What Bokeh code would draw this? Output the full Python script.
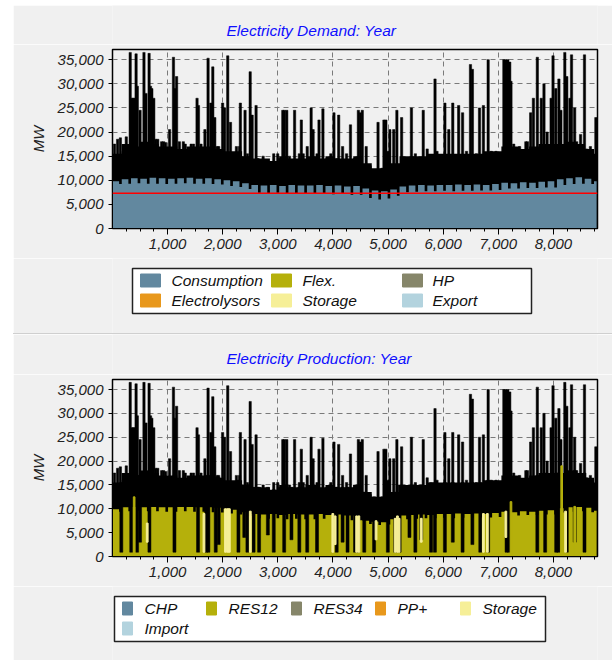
from bokeh.plotting import figure
from bokeh.models import FixedTicker, NumeralTickFormatter, Span, Range1d, Spacer
from bokeh.core.properties import value
from bokeh.layouts import column, row
from bokeh.embed import file_html
from bokeh.resources import INLINE

# ---------------- data ----------------
YEAR_HOURS = 8784
WEEK = 168
WEEKDAY = 120

demand_title = "Electricity Demand: Year"
production_title = "Electricity Production: Year"
y_label = "MW"

# consumption: weekday level and weekend level per week (MW)
cons_weekday = [9800, 10200, 10400, 10300, 10500, 10400,
                10300, 10400, 10500, 10300, 10400, 10200,
                10000, 9800, 9400,
                9000, 8900, 9000, 8800, 9000, 8900,
                8900, 9000, 8800, 8900, 8700, 8800,
                8300, 7900, 7700, 8100,
                8700, 8900, 9000, 8900, 9000, 9000, 9100, 9000, 9100, 9000, 9200,
                9500, 9400, 9600, 9500, 9700, 9800,
                10200, 10400, 10600, 10300, 9800]
cons_weekend = [9200, 9300, 9400, 9300, 9300, 9200,
                9300, 9400, 9300, 9300, 9200, 9100,
                8800, 8600, 8200,
                7400, 7300, 7400, 7200, 7300, 7200,
                7200, 7300, 7100, 7200, 7000, 7000,
                6300, 6000, 6200, 6800,
                7500, 7600, 7700, 7700, 7800, 7700, 7800, 7800, 7900, 7900, 8000,
                8300, 8300, 8400, 8400, 8500, 8500,
                9000, 9200, 9300, 9200, 8700]

# dense black band (weekly level, MW)
black_band = [15500, 17500, 17000, 18000, 17500, 17000,
              17000, 16500, 17000, 17000, 17000, 16500,
              16000, 16000, 15000,
              14500, 14500, 14000, 15000, 14500, 14500,
              15000, 14500, 15000, 14500, 14500, 15000,
              13500, 12500, 12500, 13500,
              15000, 15000, 15000, 15500, 15500, 15500, 15500, 15500, 15500, 16000, 16000,
              17000, 17000, 16500, 17000, 17500, 17500,
              17500, 18000, 17500, 16500, 15500]

# peaks of the black envelope
peak_hours = [36, 93, 143, 193, 250, 321, 350, 378, 400, 428, 450, 500, 571, 607, 664,
              690, 714, 749, 785, 821, 856, 892, 928, 963, 1035, 1106, 1135, 1163, 1213,
              1285, 1320, 1356, 1427, 1470, 1534, 1560, 1606, 1677, 1734, 1784, 1820,
              1856, 1900, 1927, 1998, 2034, 2091, 2141, 2198, 2248, 2305, 2320, 2369,
              2405, 2448, 2498, 2534, 2605, 2641, 2733, 2783, 2926, 2998, 3033, 3090,
              3119, 3162, 3212, 3304, 3390, 3426, 3461, 3533, 3604, 3640, 3711, 3747,
              3818, 3890, 3961, 4018, 4068, 4104, 4175, 4247, 4318, 4389, 4461, 4497,
              4532, 4603, 4675, 4746, 4818, 4889, 4925, 4960, 4996, 5032, 5103, 5160,
              5246, 5317, 5424, 5495, 5638, 5710, 5852, 5888, 6031, 6102, 6174, 6281,
              6352, 6423, 6495, 6530, 6602, 6659, 6730, 6816, 6873, 6959, 7101, 7137,
              7173, 7208, 7230, 7280, 7387, 7458, 7500, 7530, 7587, 7637, 7708, 7780,
              7829, 7886, 7958, 7993, 8043, 8100, 8136, 8207, 8243, 8300, 8329, 8386,
              8422, 8493, 8564, 8600, 8671, 8707, 8770]
peak_mw = [17500, 18500, 18800, 16000, 19000, 36500, 27000, 27000, 27000, 36200, 29500,
           24500, 36500, 28000, 36300, 29500, 29000, 27000, 18500, 18500, 15500, 18000,
           18000, 17800, 20500, 35500, 29000, 31500, 18000, 18000, 17500, 15000, 17500,
           17500, 27000, 25500, 17500, 20500, 35300, 26000, 33500, 23000, 17000, 17000,
           26000, 25000, 35800, 22000, 13000, 17000, 17000, 26000, 13000, 24500, 15500,
           32500, 23500, 25500, 14500, 15000, 12000, 15500, 15500, 14500, 24500, 24500,
           24500, 15000, 24500, 15500, 22500, 15500, 17000, 25000, 20500, 15500, 22500,
           24800, 14500, 15500, 24000, 14500, 23500, 17000, 15500, 21500, 14500, 24500,
           24000, 24500, 17000, 13000, 10000, 22000, 12500, 22500, 22500, 16000, 20500,
           20500, 24500, 23000, 14000, 25000, 15500, 24500, 16500, 31000, 16000, 26000,
           20500, 26000, 25500, 24000, 16000, 34000, 33000, 15500, 25000, 25500, 35000,
           16000, 16000, 35000, 35000, 35000, 34500, 30500, 17500, 17000, 16000, 18000,
           18000, 24000, 27000, 35500, 27000, 30000, 20000, 27000, 35800, 29000, 31000,
           24500, 36500, 31500, 27000, 36000, 25000, 18000, 19500, 36000, 16500, 17000,
           14000, 23000]

red_line_mw = 7300

# production: RES12 weekly levels
res12_weekday = [9900, 10300, 10400, 10300, 10400, 10300,
                 10300, 10400, 10400, 10300, 10300, 10200,
                 10000, 9800, 9300,
                 8900, 8800, 8900, 8700, 8900, 8800,
                 8800, 8900, 8700, 8800, 8600, 8600,
                 7500, 7300, 7200, 7800,
                 8600, 8700, 8800, 8700, 8900, 8900, 9000, 8900, 9000, 8900, 9100,
                 9400, 9300, 9500, 9400, 9600, 9700,
                 10100, 10300, 10400, 10200, 9600]
res12_weekend = [9400, 9500, 9600, 9500, 9500, 9400,
                 9400, 9500, 9400, 9400, 9300, 9200,
                 9000, 8800, 8500,
                 8000, 7900, 8000, 7800, 7900, 7800,
                 7800, 7900, 7700, 7800, 7600, 7600,
                 6800, 6600, 6700, 7200,
                 7800, 7900, 8000, 8000, 8100, 8000, 8100, 8100, 8200, 8200, 8300,
                 8600, 8600, 8700, 8700, 8800, 8800,
                 9200, 9400, 9500, 9300, 8900]

# hours where RES12 drops (black shows down to these levels)
res_dip_hours = [160, 340, 446, 500, 670, 1124, 1552, 1700, 1740, 1873, 1927, 2285,
                 2391, 2448, 2560, 2660, 2819, 2926, 3115, 3247, 3390, 3533, 3711,
                 4068, 4175, 4265, 4400, 4450, 4568, 4746, 4996, 5130, 5210, 5388,
                 5495, 5602, 5780, 5850, 6031, 6174, 6352, 6530, 6673, 6816, 7150,
                 7195, 7708, 7850, 8050, 8090, 8243, 8386, 8564]
res_dip_mw = [900, 900, 900, 3000, 900, 900, 900, 900, 900, 900, 2500, 900,
              4000, 900, 900, 900, 4500, 900, 900, 3500, 900, 900, 900,
              900, 3000, 900, 900, 900, 900, 900, 900, 900, 900, 4000,
              900, 3500, 900, 900, 900, 3000, 900, 2500, 900, 900, 900,
              900, 900, 900, 900, 900, 900, 3000, 900]

# storage output bars
storage_hours = [630, 1660, 2050, 2090, 2120, 2500, 3997, 4040, 4430, 4470, 4782,
                 5130, 5170, 5200, 5602, 6730, 6802, 7137, 8221]
storage_low = [3000, 900, 900, 900, 900, 900, 900, 2500, 900, 900, 3500,
               900, 900, 900, 3000, 900, 900, 4000, 900]
storage_high = [7000, 9000, 10000, 10000, 10000, 9500, 9000, 8500, 8500, 8500, 7500,
                8000, 8500, 8000, 8000, 9000, 9000, 9500, 9500]

# RES12 spikes above the usual level
res_spike_hours = [393, 7230, 8150, 8386]
res_spike_mw = [12500, 11500, 19000, 10500]

y_ticks = [0, 5000, 10000, 15000, 20000, 25000, 30000, 35000]
x_ticks = [1000, 2000, 3000, 4000, 5000, 6000, 7000, 8000]
x_minor = [h for h in range(250, 8784, 250)]

demand_legend = ["Consumption", "Flex.", "HP", "Electrolysors", "Storage", "Export"]
production_legend = ["CHP", "RES12", "RES34", "PP+", "Storage", "Import"]

C_CONS = "#62889f"
C_OLIVE = "#b5b00b"
C_HP = "#86866a"
C_ORANGE = "#e8981c"
C_STORE = "#f6ef98"
C_BLUE = "#b3d3de"
demand_colors = [C_CONS, C_OLIVE, C_HP, C_ORANGE, C_STORE, C_BLUE]
production_colors = [C_CONS, C_OLIVE, C_HP, C_ORANGE, C_STORE, C_BLUE]

BG = "#f0f0f0"
FONT = "Liberation Sans"
W = 599
BL = 99   # left border of the plot frames
BR = 15   # right border of the plot frames


def step_xy(hi, lo):
    xs, ys = [], []
    for k, (a, b) in enumerate(zip(hi, lo)):
        s = k * WEEK
        m = min(s + WEEKDAY, YEAR_HOURS)
        e = min(s + WEEK, YEAR_HOURS)
        xs += [s, m, m, e]
        ys += [a, a, b, b]
    return xs, ys


def band_xy(vals):
    xs, ys = [], []
    for k, v in enumerate(vals):
        xs += [k * WEEK, min((k + 1) * WEEK, YEAR_HOURS)]
        ys += [v, v]
    return xs, ys


def blank_fig(height):
    # frames are aligned with the plot frames by the column layout, so the
    # x range is expressed in figure pixels between the two borders
    p = figure(width=W, height=height, output_backend="svg", toolbar_location=None,
               x_range=Range1d(BL, W - BR), y_range=Range1d(0, height),
               x_axis_location=None, y_axis_location=None,
               min_border_left=BL, min_border_right=BR,
               min_border_top=0, min_border_bottom=0,
               background_fill_color=BG, border_fill_color=BG)
    p.outline_line_color = None
    p.xgrid.visible = False
    p.ygrid.visible = False
    return p


def header_fig(title, height, tx, ty):
    p = blank_fig(height)
    p.text(x=[tx], y=[ty], text=[title], text_font=value(FONT),
           text_font_style="italic", text_font_size=value("15.5px"),
           text_color="#0f0fff", text_baseline="middle", text_align="left")
    return p


def legend_fig(labels, colors, height, box, swatch_x, text_x, row_y, ncols, sw, sh):
    p = blank_fig(height)
    p.quad(left=[box[0]], right=[box[1]], bottom=[box[2]], top=[box[3]],
           fill_color="white", line_color="#222222", line_width=1.5)
    sx, tx, ty, cl = [], [], [], []
    for i, (lab, col) in enumerate(zip(labels, colors)):
        r, c = divmod(i, ncols)
        sx.append(swatch_x[c])
        tx.append(text_x[c])
        ty.append(row_y[r])
        cl.append(col)
    p.quad(left=sx, right=[v + sw for v in sx], bottom=[v - sh / 2 for v in ty],
           top=[v + sh / 2 for v in ty], fill_color=cl, line_color=cl)
    p.text(x=tx, y=ty, text=list(labels), text_font=value(FONT),
           text_font_style="italic", text_font_size=value("15.5px"),
           text_color="#111111", text_baseline="middle", text_align="left")
    return p


def make_fig(height, top_border, bottom_border):
    p = figure(width=W, height=height, output_backend="svg", toolbar_location=None,
               x_range=Range1d(0, 8800), y_range=Range1d(0, 37100),
               min_border_left=BL, min_border_right=BR,
               min_border_top=top_border, min_border_bottom=bottom_border,
               background_fill_color=BG, border_fill_color=BG)
    p.outline_line_color = "black"
    p.outline_line_width = 1.5
    p.xaxis.ticker = FixedTicker(ticks=x_ticks, minor_ticks=x_minor)
    p.yaxis.ticker = FixedTicker(ticks=y_ticks, minor_ticks=[])
    p.yaxis.formatter = NumeralTickFormatter(format="0,0")
    p.xaxis.formatter = NumeralTickFormatter(format="0,0")
    for ax in (p.xaxis, p.yaxis):
        ax.major_label_text_font = FONT
        ax.major_label_text_font_style = "italic"
        ax.major_label_text_font_size = "15px"
        ax.major_label_text_color = "#222222"
        ax.axis_line_color = "black"
        ax.major_tick_line_color = "black"
        ax.minor_tick_line_color = "black"
        ax.major_tick_in = 0
        ax.minor_tick_in = 0
    p.xaxis.major_tick_out = 6
    p.xaxis.minor_tick_out = 3
    p.yaxis.major_tick_out = 4
    p.xaxis.major_label_standoff = 4
    p.yaxis.major_label_standoff = 5
    p.yaxis.axis_label = y_label
    p.yaxis.axis_label_text_font = FONT
    p.yaxis.axis_label_text_font_style = "italic"
    p.yaxis.axis_label_text_font_size = "15px"
    p.yaxis.axis_label_text_color = "#222222"
    p.yaxis.axis_label_standoff = 8
    p.xgrid.ticker = FixedTicker(ticks=x_ticks)
    p.ygrid.ticker = FixedTicker(ticks=y_ticks[1:])
    for g in (p.xgrid, p.ygrid):
        g.grid_line_color = "#7a7a7a"
        g.grid_line_dash = "5 4"
        g.grid_line_width = 1
        g.level = "underlay"
    return p


def draw_black(p):
    bx, by = band_xy(black_band)
    p.varea(x=bx, y1=[0] * len(bx), y2=by, fill_color="black")
    p.vbar(x=peak_hours, top=peak_mw, bottom=0, width=42, fill_color="black",
           line_color="black", line_width=0.5)


# ---------------- top: demand ----------------
h1 = header_fig(demand_title, 39, 213, 14)
p1 = make_fig(214, 5, 30)
draw_black(p1)
cx, cy = step_xy(cons_weekday, cons_weekend)
p1.varea(x=cx, y1=[0] * len(cx), y2=cy, fill_color=C_CONS)
p1.add_layout(Span(location=red_line_mw, dimension="width", line_color="red",
                   line_width=1.5))
l1 = legend_fig(demand_legend, demand_colors, 75, (119, 518, 20, 65),
                [127, 258, 389], [158, 289, 419], [53, 33], 3, 20, 13)

sep = Spacer(width=W, height=1, margin=0, styles={"background-color": "#cfcfcf"})

# ---------------- bottom: production ----------------
h2 = header_fig(production_title, 40, 213, 16)
p2 = make_fig(212, 5, 30)
draw_black(p2)
rx, ry = step_xy(res12_weekday, res12_weekend)
p2.varea(x=rx, y1=[0] * len(rx), y2=ry, fill_color=C_OLIVE)
dip_top = [black_band[min(h // WEEK, len(black_band) - 1)] for h in res_dip_hours]
p2.vbar(x=res_dip_hours, bottom=res_dip_mw, top=dip_top, width=55, fill_color="black",
        line_color="black", line_width=0.5)
p2.vbar(x=storage_hours, bottom=storage_low, top=storage_high, width=32,
        fill_color=C_STORE, line_color=C_STORE)
p2.vbar(x=res_spike_hours, bottom=0, top=res_spike_mw, width=30, fill_color=C_OLIVE,
        line_color=C_OLIVE)
l2 = legend_fig(production_legend, production_colors, 74, (101, 532, 19, 64),
                [109, 193, 278, 362, 447], [131, 215, 300, 384, 469], [52, 32], 5, 10, 13)

layout = row(Spacer(width=13),
             column(Spacer(height=5), h1, p1, l1, sep, h2, p2, l2, spacing=0), spacing=0)
open("out.html", "w").write(file_html(layout, INLINE))
